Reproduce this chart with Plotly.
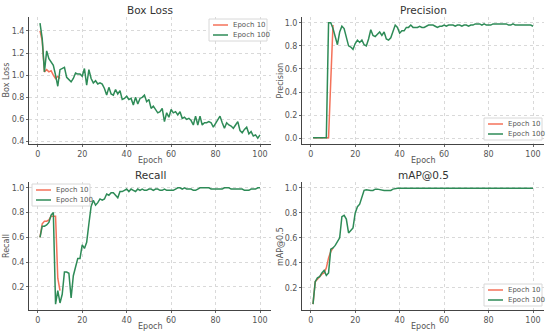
import plotly.graph_objects as go

epochs100 = list(range(1, 101))
epochs10 = list(range(1, 11))

box_loss_100 = [1.47, 1.33, 1.03, 1.22, 1.15, 1.12, 1.09, 1.00, 0.90, 1.05,
                1.06, 1.07, 0.98, 0.96, 0.94, 0.97, 1.02, 1.01, 1.01, 0.99,
                1.06, 0.91, 1.05, 0.97, 0.93, 0.95, 0.92, 0.93, 0.92, 0.88,
                0.82, 0.89, 0.83, 0.82, 0.87, 0.83, 0.86, 0.78, 0.79, 0.81,
                0.78, 0.79, 0.73, 0.80, 0.74, 0.79, 0.80, 0.82, 0.76, 0.78,
                0.70, 0.72, 0.69, 0.66, 0.67, 0.70, 0.58, 0.66, 0.62, 0.69,
                0.66, 0.67, 0.64, 0.67, 0.61, 0.62, 0.60, 0.61, 0.59, 0.55,
                0.63, 0.55, 0.63, 0.55, 0.57, 0.57, 0.58, 0.57, 0.53, 0.56,
                0.60, 0.63, 0.57, 0.52, 0.57, 0.55, 0.54, 0.52, 0.55, 0.58,
                0.50, 0.48, 0.51, 0.53, 0.47, 0.49, 0.45, 0.46, 0.43, 0.46]
box_loss_10 = [1.40, 1.31, 1.03, 1.05, 1.03, 1.04, 1.00, 0.97, 0.99, 0.97]

precision_100 = [0.005, 0.005, 0.005, 0.005, 0.005, 0.005, 0.005, 1.00, 1.00, 0.95,
                 0.88, 0.81, 0.92, 0.97, 0.95, 0.88, 0.80, 0.79, 0.77, 0.82,
                 0.85, 0.83, 0.85, 0.81, 0.80, 0.86, 0.94, 0.89, 0.88, 0.90,
                 0.92, 0.89, 0.92, 0.86, 0.85, 0.87, 0.93, 0.98, 0.96, 0.91,
                 0.93, 0.93, 0.96, 0.96, 0.98, 0.96, 0.96, 0.96, 0.97, 0.96,
                 0.96, 0.97, 0.98, 0.98, 0.98, 0.97, 0.96, 0.97, 0.97, 0.98,
                 0.97, 0.98, 0.98, 0.98, 0.97, 0.98, 0.98, 0.97, 0.98, 0.98,
                 0.97, 0.98, 0.98, 0.99, 0.99, 0.99, 0.98, 0.99, 0.98, 0.98,
                 0.98, 0.99, 0.99, 0.99, 0.995, 0.99, 0.99, 0.99, 0.98, 0.98,
                 0.99, 0.98, 0.98, 0.98, 0.98, 0.98, 0.98, 0.98, 0.98, 0.97]
precision_10 = [0.005, 0.005, 0.005, 0.005, 0.005, 0.005, 0.005, 0.005, 0.50, 0.98]

recall_100 = [0.60, 0.69, 0.69, 0.70, 0.72, 0.78, 0.80, 0.06, 0.17, 0.07,
              0.14, 0.32, 0.32, 0.31, 0.11, 0.29, 0.36, 0.43, 0.43, 0.54,
              0.51, 0.56, 0.71, 0.85, 0.90, 0.86, 0.88, 0.91, 0.90, 0.91,
              0.95, 0.94, 0.96, 0.96, 0.94, 0.92, 0.97, 0.97, 0.98, 0.99,
              0.97, 0.99, 0.98, 0.97, 0.99, 0.98, 0.99, 0.98, 0.98, 0.99,
              0.99, 0.98, 0.99, 0.99, 0.98, 0.98, 0.99, 0.98, 0.98, 0.98,
              0.98, 0.99, 1.00, 1.00, 0.99, 1.00, 0.99, 0.99, 0.99, 0.98,
              0.98, 0.99, 1.00, 1.00, 1.00, 1.00, 1.00, 0.99, 0.99, 0.99,
              0.99, 0.99, 0.99, 1.00, 1.00, 1.00, 0.99, 0.99, 0.99, 0.99,
              0.99, 0.99, 0.98, 0.98, 0.98, 0.99, 0.99, 0.99, 1.00, 1.00]
recall_10 = [0.60, 0.71, 0.73, 0.73, 0.74, 0.77, 0.77, 0.77, 0.27, 0.17]

map50_100 = [0.07, 0.25, 0.28, 0.29, 0.32, 0.34, 0.30, 0.32, 0.51, 0.52,
             0.54, 0.57, 0.60, 0.77, 0.78, 0.75, 0.64, 0.66, 0.68, 0.80,
             0.85, 0.87, 0.92, 0.98, 0.985, 0.98, 0.98, 0.98, 0.99, 0.99,
             0.985, 0.98, 0.98, 0.98, 0.98, 0.98, 0.99, 0.995, 0.997, 0.997,
             0.997, 0.997, 0.997, 0.997, 0.997, 0.997, 0.997, 0.997, 0.997, 0.997,
             0.997, 0.997, 0.997, 0.997, 0.997, 0.997, 0.997, 0.997, 0.997, 0.997,
             0.997, 0.997, 0.997, 0.997, 0.997, 0.997, 0.997, 0.997, 0.997, 0.997,
             0.997, 0.997, 0.997, 0.997, 0.997, 0.997, 0.997, 0.997, 0.997, 0.997,
             0.997, 0.997, 0.997, 0.997, 0.997, 0.997, 0.997, 0.997, 0.997, 0.997,
             0.997, 0.997, 0.997, 0.997, 0.997, 0.997, 0.997, 0.997, 0.997, 0.997]
map50_10 = [0.07, 0.25, 0.27, 0.29, 0.31, 0.32, 0.36, 0.44, 0.49, 0.52]

titles = ["Box Loss", "Precision", "Recall", "mAP@0.5"]
series_names = ["Epoch 10", "Epoch 100"]
xticks = [0, 20, 40, 60, 80, 100]

RED = "#f4725a"
GREEN = "#2e8b57"
FONT = "DejaVu Sans"
TXT = "#555555"
W, H = 550, 334


def px(x):
    return x / W


def py(y):
    return 1 - y / H


# panel pixel boxes: left, right, top, bottom ; legend box left, top ; title y
panels = [
    dict(y10=box_loss_10, y100=box_loss_100, yr=[0.378, 1.526], yt=[0.4, 0.6, 0.8, 1.0, 1.2, 1.4],
         box=(29, 271, 17, 144), leg=(209, 19), ylab_x=6, title_y=10),
    dict(y10=precision_10, y100=precision_100, yr=[-0.05, 1.05], yt=[0.0, 0.2, 0.4, 0.6, 0.8, 1.0],
         box=(302, 544, 17, 144), leg=(484, 118), ylab_x=280, title_y=10),
    dict(y10=recall_10, y100=recall_100, yr=[0.013, 1.047], yt=[0.2, 0.4, 0.6, 0.8, 1.0],
         box=(29, 271, 182, 310), leg=(32, 184), ylab_x=6, title_y=175),
    dict(y10=map50_10, y100=map50_100, yr=[0.023, 1.047], yt=[0.2, 0.4, 0.6, 0.8, 1.0],
         box=(302, 544, 182, 310), leg=(484, 284), ylab_x=280, title_y=175),
]

fig = go.Figure()
layout = dict(width=W, height=H, margin=dict(l=0, r=0, t=0, b=0, autoexpand=False),
              paper_bgcolor="white", plot_bgcolor="white", showlegend=False,
              font=dict(family=FONT, color=TXT, size=8), annotations=[], shapes=[])

for i, p in enumerate(panels):
    n = "" if i == 0 else str(i + 1)
    l, r, t, b = p["box"]
    fig.add_trace(go.Scatter(x=epochs10, y=p["y10"], mode="lines", name=series_names[0],
                             line=dict(color=RED, width=1.5), xaxis="x" + n, yaxis="y" + n))
    fig.add_trace(go.Scatter(x=epochs100, y=p["y100"], mode="lines", name=series_names[1],
                             line=dict(color=GREEN, width=1.5), xaxis="x" + n, yaxis="y" + n))
    common = dict(showgrid=True, gridcolor="#d9d9d9", griddash="dot", gridwidth=0.8,
                  zeroline=False, showline=True, linecolor="#444444", linewidth=1,
                  ticks="outside", ticklen=2, tickcolor="#666666", automargin=False,
                  tickfont=dict(size=8, color=TXT, family=FONT))
    layout["xaxis" + n] = dict(domain=[px(l), px(r)], anchor="y" + n, range=[-3.95, 104.95],
                               tickvals=xticks, **common)
    layout["yaxis" + n] = dict(domain=[py(b), py(t)], anchor="x" + n, range=p["yr"],
                               tickvals=p["yt"], tickformat=".1f", **common)
    # title
    layout["annotations"].append(dict(text=titles[i], x=px((l + r) / 2), y=py(p["title_y"]),
                                      xref="paper", yref="paper", xanchor="center",
                                      yanchor="middle", showarrow=False,
                                      font=dict(size=10.5, color="#333333", family=FONT)))
    # x title
    layout["annotations"].append(dict(text="Epoch", x=px((l + r) / 2), y=py(b + 16), xref="paper",
                                      yref="paper", xanchor="center", yanchor="middle",
                                      showarrow=False, font=dict(size=8, color=TXT, family=FONT)))
    # y title
    layout["annotations"].append(dict(text=titles[i], x=px(p["ylab_x"]), y=py((t + b) / 2),
                                      xref="paper", yref="paper", xanchor="center",
                                      yanchor="middle", textangle=-90, showarrow=False,
                                      font=dict(size=8, color=TXT, family=FONT)))
    # legend (drawn manually)
    lx, ly = p["leg"]
    layout["shapes"].append(dict(type="rect", xref="paper", yref="paper", x0=px(lx), x1=px(lx + 58),
                                 y0=py(ly + 22), y1=py(ly), line=dict(color="#d8d8d8", width=1),
                                 fillcolor="white", layer="above"))
    for k, (nm, col) in enumerate(zip(series_names, [RED, GREEN])):
        yy = ly + 6 + k * 10
        layout["shapes"].append(dict(type="line", xref="paper", yref="paper", x0=px(lx + 4),
                                     x1=px(lx + 19), y0=py(yy), y1=py(yy),
                                     line=dict(color=col, width=1.5), layer="above"))
        layout["annotations"].append(dict(text=nm, x=px(lx + 22), y=py(yy), xref="paper",
                                          yref="paper", xanchor="left", yanchor="middle",
                                          showarrow=False,
                                          font=dict(size=7, color=TXT, family=FONT)))

fig.update_layout(**layout)
fig.write_html("out.html", config={"displayModeBar": False},
               post_script="document.body.style.margin='0';")
